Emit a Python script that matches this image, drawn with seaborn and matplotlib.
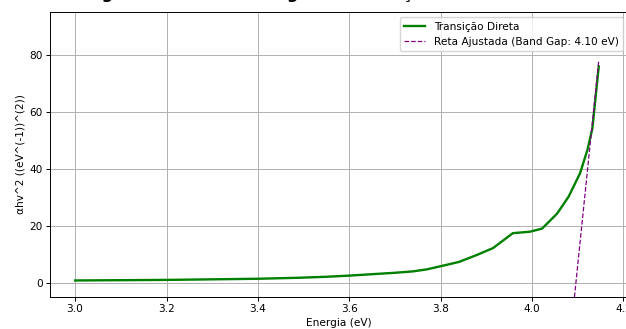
import matplotlib
matplotlib.use("Agg")
import matplotlib.pyplot as plt
import seaborn as sns
import pandas as pd

# Photon energy (eV) and (alpha*h*nu)^2 for the direct transition
energia = [3.00, 3.10, 3.20, 3.30, 3.40, 3.49, 3.55, 3.60, 3.67, 3.70, 3.74,
           3.77, 3.80, 3.84, 3.88, 3.915, 3.958, 3.995, 4.022, 4.055, 4.080,
           4.105, 4.121, 4.132, 4.146]
alpha_hv2 = [0.8, 0.9, 1.0, 1.2, 1.4, 1.75, 2.1, 2.5, 3.2, 3.5, 4.0,
             4.7, 5.8, 7.3, 9.8, 12.2, 17.4, 17.9, 19.0, 24.3, 30.2,
             38.4, 46.5, 54.1, 75.9]

# Linear fit of the absorption edge: y = slope * (E - band_gap)
band_gap = 4.096
slope = 1560.0

df = pd.DataFrame({"Energia": energia, "Y": alpha_hv2})
df["Ajuste"] = slope * (df["Energia"] - band_gap)

fs = 7.6
fig = plt.figure(figsize=(6.26, 3.29), dpi=100)
ax = fig.add_axes([50 / 626, 32 / 329, 578 / 626, 285 / 329])

sns.lineplot(data=df, x="Energia", y="Y", ax=ax, color="green", linewidth=1.7,
             label="Transição Direta")
sns.lineplot(data=df, x="Energia", y="Ajuste", ax=ax, color="purple",
             linewidth=0.9, linestyle="--",
             label=f"Reta Ajustada (Band Gap: {band_gap:.2f} eV)")

ax.set_xlim(2.945, 4.21)
ax.set_ylim(-5, 95)
ax.set_xticks([3.0, 3.2, 3.4, 3.6, 3.8, 4.0, 4.2])
ax.set_yticks([0, 20, 40, 60, 80])
ax.grid(True, color="#b0b0b0", linewidth=0.7)
for s in ax.spines.values():
    s.set_linewidth(0.7)
ax.tick_params(labelsize=fs, length=2.6, width=0.7, pad=2.6)
ax.set_xlabel("Energia (eV)", fontsize=fs, labelpad=3)
ax.set_ylabel("αhv^2 ((eV^(-1))^(2))", fontsize=fs, labelpad=3)
ax.set_title("Diagrama de Tauc: Energia de Transição Direta da Amostra",
             fontsize=11.5, fontweight="bold", pad=9.5)
ax.legend(loc="upper right", fontsize=fs, borderaxespad=0.5)

fig.savefig("out.png", dpi=100)
